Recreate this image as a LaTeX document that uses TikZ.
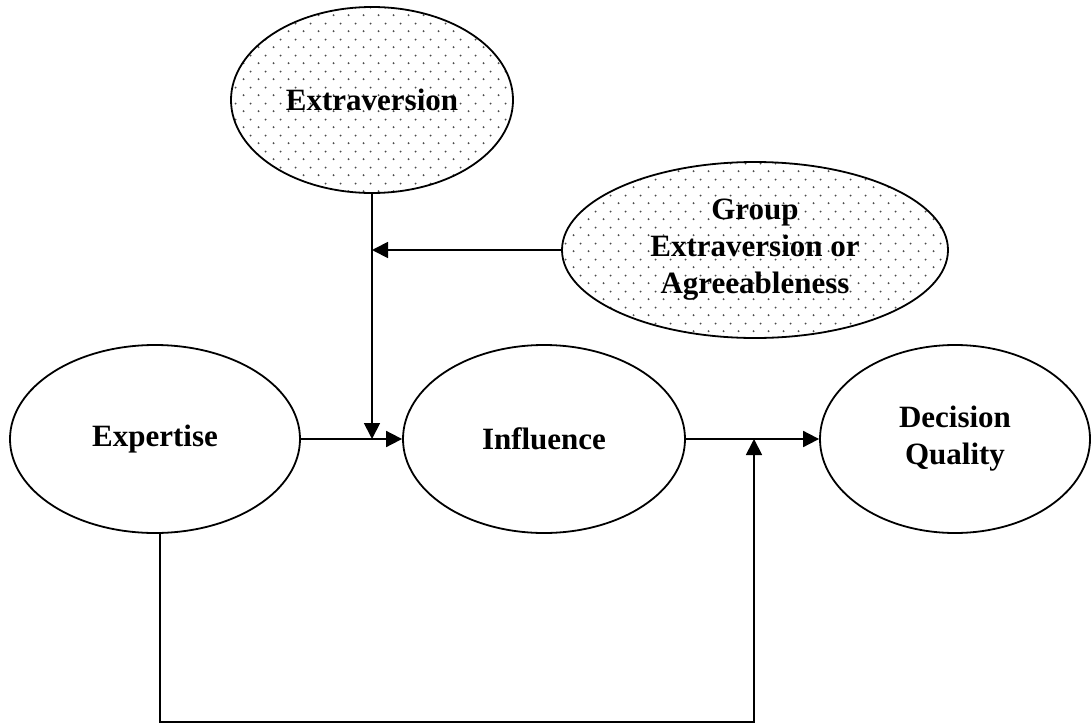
\documentclass[tikz,border=0pt]{standalone}
\usepackage{fontspec}
\setmainfont{Liberation Serif}
\usepackage{tikz}
\usetikzlibrary{arrows.meta,shapes.geometric,patterns.meta}

\tikzdeclarepattern{
  name=speckle, type=uncolored,
  bottom left={(0pt,0pt)}, top right={(15pt,15.6pt)},
  tile size={(15pt,15.6pt)},
  code={
    \fill (3.75pt,3.9pt) circle (1.1pt);
    \fill (11.25pt,11.7pt) circle (1.1pt);
  }
}

\begin{document}
\begin{tikzpicture}[x=1pt, y=-1pt,
  box/.style={ellipse, draw, line width=1.8pt, inner sep=0pt,
    align=center, font=\fontsize{31}{37}\selectfont\bfseries},
  dotted box/.style={box, pattern={speckle}, pattern color=black!70},
  arr/.style={-{Triangle[length=16pt, width=16pt]}, line width=1.8pt}]
  \useasboundingbox (0,0) rectangle (1092,725);

  % Moderators
  \node[dotted box, minimum width=282, minimum height=186] (extra) at (372,100) {Extraversion};
  \node[dotted box, minimum width=386, minimum height=176] (group) at (755,250)
    {Group\\Extraversion or\\Agreeableness};

  % Main chain
  \node[box, minimum width=290, minimum height=188] (exp) at (155,439) {Expertise};
  \node[box, minimum width=282, minimum height=188] (infl) at (544,439) {Influence};
  \node[box, minimum width=270, minimum height=188] (dq) at (955,439) {Decision\\Quality};

  \coordinate (m1) at (extra.south |- exp.east);
  \coordinate (m2) at (extra.south |- group.west);
  \coordinate (m3) at (754,439);
  \coordinate (low) at (160,722);

  \draw[arr] (exp.east) -- (infl.west);
  \draw[arr] (infl.east) -- (dq.west);
  \draw[arr] (extra.south) -- (m1);
  \draw[arr] (group.west) -- (m2);

  % Direct path
  \draw[arr] (exp.south -| low) -- (low) -| (m3);
\end{tikzpicture}
\end{document}
